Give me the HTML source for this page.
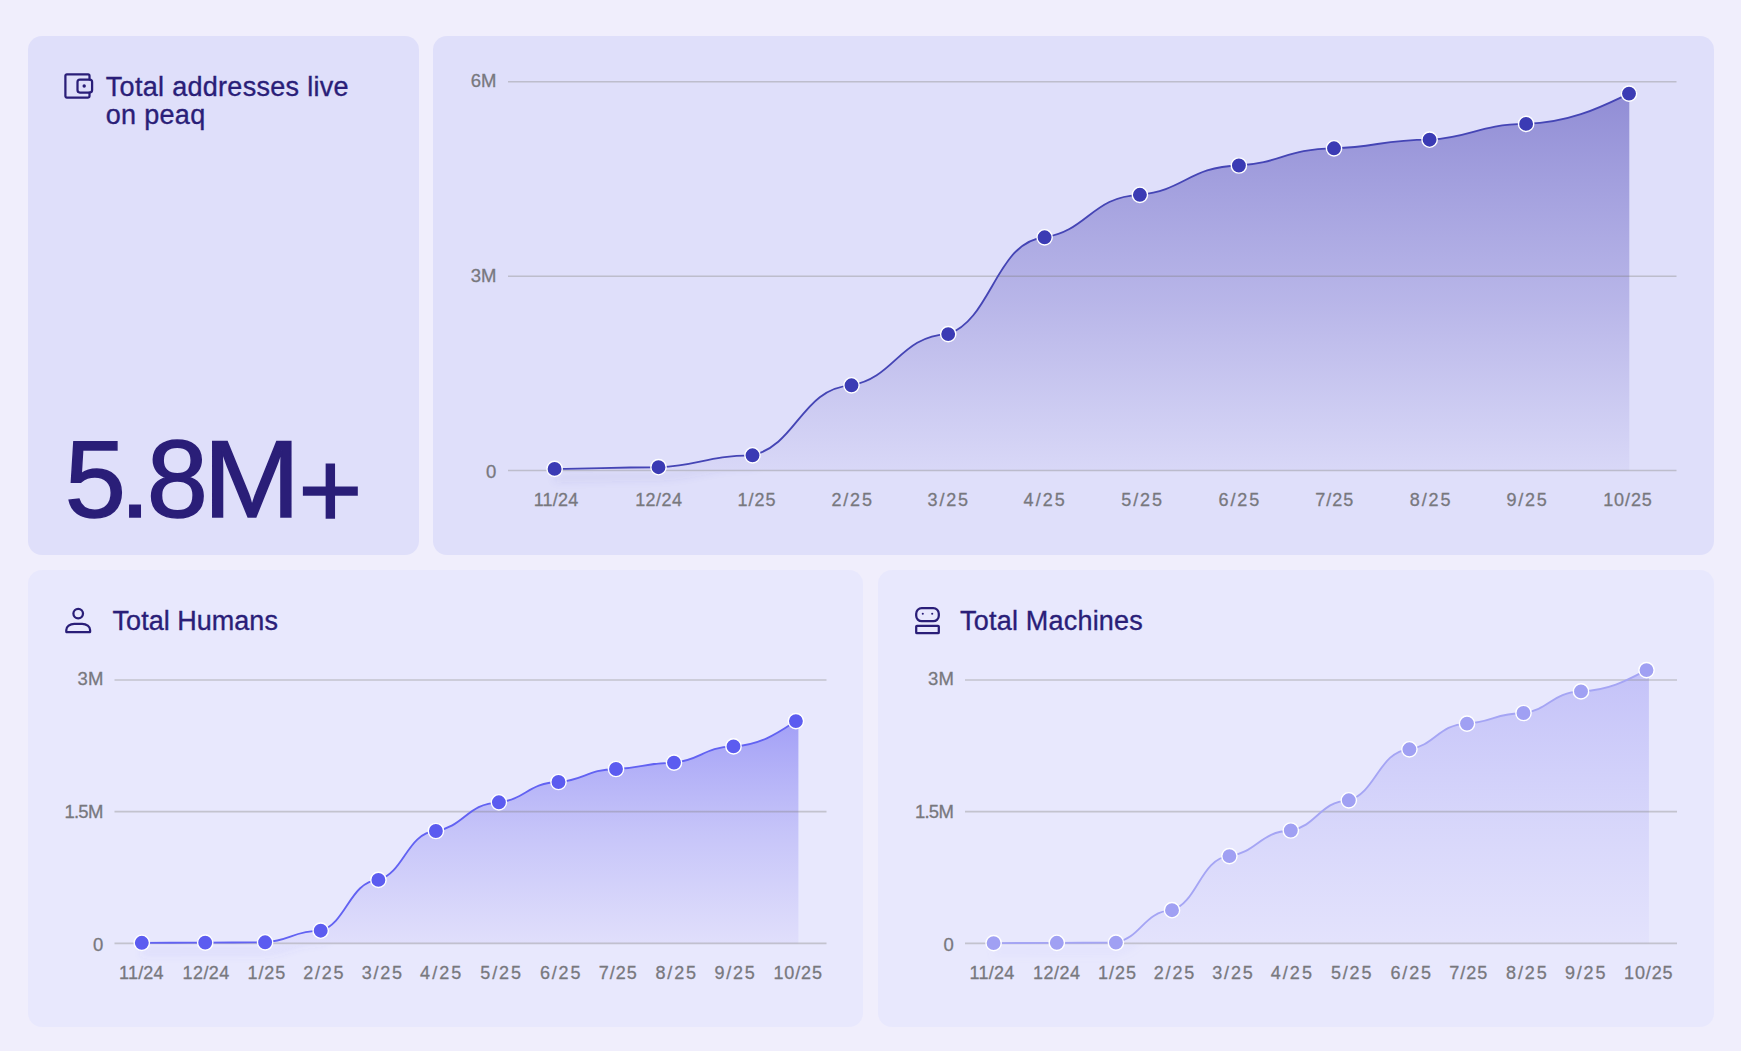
<!DOCTYPE html>
<html><head><meta charset="utf-8"><title>peaq stats</title>
<style>
html,body{margin:0;padding:0}
body{width:1741px;height:1051px;background:#f0eefc;position:relative;overflow:hidden;font-family:"Liberation Sans",sans-serif;color:#2a1e78}
.card{position:absolute;border-radius:14px}
.c1{left:28px;top:36px;width:391px;height:518.5px;background:#dfdffa}
.c2{left:433.3px;top:36px;width:1280.9px;height:518.6px;background:#dfdffa}
.c3{left:28px;top:570.2px;width:835.3px;height:457.3px;background:#e8e8fd}
.c4{left:878px;top:570.2px;width:836.2px;height:457.3px;background:#e8e8fd}
.t{position:absolute;white-space:nowrap;color:#2a1e78;-webkit-text-stroke:0.35px #2a1e78}
.t1{left:105.8px;top:72.5px;font-size:27px;line-height:28.3px;letter-spacing:0.3px}
.big{top:415.3px;font-size:110px;line-height:128px;-webkit-text-stroke:1.5px #2a1e78}
.t3{left:112.6px;top:605.5px;font-size:27px;line-height:30px;letter-spacing:0.02px}
.t4{left:960.1px;top:605.5px;font-size:27px;line-height:30px;letter-spacing:0.2px}
</style></head><body>
<div class="card c1"></div><div class="card c2"></div><div class="card c3"></div><div class="card c4"></div>
<svg width="1741" height="1051" viewBox="0 0 1741 1051" style="position:absolute;left:0;top:0;font-family:'Liberation Sans',sans-serif">
<defs><filter id="blur" x="-5%" y="-50%" width="110%" height="200%"><feGaussianBlur stdDeviation="4"/></filter></defs>
<defs><linearGradient id="gTop" gradientUnits="userSpaceOnUse" x1="0" y1="93.6" x2="0" y2="470.5">
<stop offset="0" stop-color="#8a86d2" stop-opacity="0.92"/>
<stop offset="0.55" stop-color="#aeabe4" stop-opacity="0.8"/>
<stop offset="1" stop-color="#d6d5f6" stop-opacity="0.75"/>
</linearGradient></defs>
<path d="M554.6,468.9C601.4,468.6 606.5,467.3 658.5,467.2C700.8,465.4 705.5,455.8 752.5,455.3C797,444.8 802,388.1 851.5,385.3C895,377.6 899.9,336.1 948.2,334.1C991.6,319.6 996.4,241.2 1044.6,237.3C1087.5,230.9 1092.2,196.5 1139.9,194.8C1184.5,190.4 1189.4,166.7 1238.9,165.5C1281.7,162.9 1286.5,149 1334,148.3C1377,147 1381.8,140 1429.6,139.7C1473,137.3 1477.8,124.5 1526.1,123.9C1572.4,122.4 1603.3,105.7 1629,93.6L1629.3,93.6 L1629.3,470.5 L554.6,470.5 Z" fill="url(#gTop)"/>
<line x1="508" y1="81.8" x2="1676.5" y2="81.8" stroke="#7a7a70" stroke-opacity="0.33" stroke-width="1.6"/>
<line x1="508" y1="276.2" x2="1676.5" y2="276.2" stroke="#7a7a70" stroke-opacity="0.33" stroke-width="1.6"/>
<line x1="508" y1="470.5" x2="1676.5" y2="470.5" stroke="#7a7a70" stroke-opacity="0.33" stroke-width="1.6"/>
<clipPath id="cgTop"><rect x="0" y="471.5" width="1741" height="40"/></clipPath>
<g clip-path="url(#cgTop)"><path d="M554.6,468.9C601.4,468.6 606.5,467.3 658.5,467.2C700.8,465.4 705.5,455.8 752.5,455.3C797,444.8 802,388.1 851.5,385.3C895,377.6 899.9,336.1 948.2,334.1C991.6,319.6 996.4,241.2 1044.6,237.3C1087.5,230.9 1092.2,196.5 1139.9,194.8C1184.5,190.4 1189.4,166.7 1238.9,165.5C1281.7,162.9 1286.5,149 1334,148.3C1377,147 1381.8,140 1429.6,139.7C1473,137.3 1477.8,124.5 1526.1,123.9C1572.4,122.4 1603.3,105.7 1629,93.6" fill="none" stroke="#4545b5" stroke-width="5" stroke-opacity="0.13" transform="translate(0,9)" filter="url(#blur)"/></g>
<path d="M554.6,468.9C601.4,468.6 606.5,467.3 658.5,467.2C700.8,465.4 705.5,455.8 752.5,455.3C797,444.8 802,388.1 851.5,385.3C895,377.6 899.9,336.1 948.2,334.1C991.6,319.6 996.4,241.2 1044.6,237.3C1087.5,230.9 1092.2,196.5 1139.9,194.8C1184.5,190.4 1189.4,166.7 1238.9,165.5C1281.7,162.9 1286.5,149 1334,148.3C1377,147 1381.8,140 1429.6,139.7C1473,137.3 1477.8,124.5 1526.1,123.9C1572.4,122.4 1603.3,105.7 1629,93.6" fill="none" stroke="#4545b5" stroke-width="1.85" stroke-linecap="round" stroke-linejoin="round"/>
<circle cx="554.6" cy="468.9" r="7.65" fill="#3b3bb4" stroke="#ffffff" stroke-width="1.4"/>
<circle cx="658.5" cy="467.2" r="7.65" fill="#3b3bb4" stroke="#ffffff" stroke-width="1.4"/>
<circle cx="752.5" cy="455.3" r="7.65" fill="#3b3bb4" stroke="#ffffff" stroke-width="1.4"/>
<circle cx="851.5" cy="385.3" r="7.65" fill="#3b3bb4" stroke="#ffffff" stroke-width="1.4"/>
<circle cx="948.2" cy="334.1" r="7.65" fill="#3b3bb4" stroke="#ffffff" stroke-width="1.4"/>
<circle cx="1044.6" cy="237.3" r="7.65" fill="#3b3bb4" stroke="#ffffff" stroke-width="1.4"/>
<circle cx="1139.9" cy="194.8" r="7.65" fill="#3b3bb4" stroke="#ffffff" stroke-width="1.4"/>
<circle cx="1238.9" cy="165.5" r="7.65" fill="#3b3bb4" stroke="#ffffff" stroke-width="1.4"/>
<circle cx="1334" cy="148.3" r="7.65" fill="#3b3bb4" stroke="#ffffff" stroke-width="1.4"/>
<circle cx="1429.6" cy="139.7" r="7.65" fill="#3b3bb4" stroke="#ffffff" stroke-width="1.4"/>
<circle cx="1526.1" cy="123.9" r="7.65" fill="#3b3bb4" stroke="#ffffff" stroke-width="1.4"/>
<circle cx="1629" cy="93.6" r="7.65" fill="#3b3bb4" stroke="#ffffff" stroke-width="1.4"/>
<text x="556" y="506.4" text-anchor="middle" font-size="18" textLength="44.6" lengthAdjust="spacing" fill="#78787e" stroke="#78787e" stroke-width="0.3">11/24</text>
<text x="658.6" y="506.4" text-anchor="middle" font-size="18" textLength="46.9" lengthAdjust="spacing" fill="#78787e" stroke="#78787e" stroke-width="0.3">12/24</text>
<text x="756.5" y="506.4" text-anchor="middle" font-size="18" textLength="37.8" lengthAdjust="spacing" fill="#78787e" stroke="#78787e" stroke-width="0.3">1/25</text>
<text x="851.7" y="506.4" text-anchor="middle" font-size="18" textLength="40.4" lengthAdjust="spacing" fill="#78787e" stroke="#78787e" stroke-width="0.3">2/25</text>
<text x="947.8" y="506.4" text-anchor="middle" font-size="18" textLength="40.4" lengthAdjust="spacing" fill="#78787e" stroke="#78787e" stroke-width="0.3">3/25</text>
<text x="1044.2" y="506.4" text-anchor="middle" font-size="18" textLength="41.2" lengthAdjust="spacing" fill="#78787e" stroke="#78787e" stroke-width="0.3">4/25</text>
<text x="1141.6" y="506.4" text-anchor="middle" font-size="18" textLength="40.6" lengthAdjust="spacing" fill="#78787e" stroke="#78787e" stroke-width="0.3">5/25</text>
<text x="1238.9" y="506.4" text-anchor="middle" font-size="18" textLength="40.6" lengthAdjust="spacing" fill="#78787e" stroke="#78787e" stroke-width="0.3">6/25</text>
<text x="1334.2" y="506.4" text-anchor="middle" font-size="18" textLength="37.9" lengthAdjust="spacing" fill="#78787e" stroke="#78787e" stroke-width="0.3">7/25</text>
<text x="1430.1" y="506.4" text-anchor="middle" font-size="18" textLength="40.6" lengthAdjust="spacing" fill="#78787e" stroke="#78787e" stroke-width="0.3">8/25</text>
<text x="1526.6" y="506.4" text-anchor="middle" font-size="18" textLength="40.4" lengthAdjust="spacing" fill="#78787e" stroke="#78787e" stroke-width="0.3">9/25</text>
<text x="1627.5" y="506.4" text-anchor="middle" font-size="18" textLength="48.6" lengthAdjust="spacing" fill="#78787e" stroke="#78787e" stroke-width="0.3">10/25</text>
<text x="496.4" y="86.5" text-anchor="end" font-size="18.5" fill="#78787e" stroke="#78787e" stroke-width="0.3">6M</text>
<text x="496.4" y="282" text-anchor="end" font-size="18.5" fill="#78787e" stroke="#78787e" stroke-width="0.3">3M</text>
<text x="496.4" y="478" text-anchor="end" font-size="18.5" fill="#78787e" stroke="#78787e" stroke-width="0.3">0</text>
<defs><linearGradient id="gHum" gradientUnits="userSpaceOnUse" x1="0" y1="721.1" x2="0" y2="943.4">
<stop offset="0" stop-color="#9f9cf6" stop-opacity="0.95"/>
<stop offset="0.5" stop-color="#c0bef8" stop-opacity="0.85"/>
<stop offset="1" stop-color="#dedcfb" stop-opacity="0.8"/>
</linearGradient></defs>
<path d="M141.8,942.8C170.3,942.8 173.5,942.6 205.2,942.6C232.2,942.6 235.2,942.3 265.1,942.3C290.1,940.6 292.9,931.2 320.7,930.7C346.7,923.1 349.5,881.9 378.4,879.9C404.3,872.6 407.1,833 435.9,831C464.2,826.7 467.4,803.4 498.9,802.3C525.7,799.3 528.7,782.8 558.5,782C584.4,780 587.2,769.5 616,769C642.1,768 645,762.9 674,762.6C700.8,760.2 703.8,747 733.5,746.4C761.6,745.1 780.3,731.2 795.9,721.1L798.4,721.1 L798.4,943.4 L141.8,943.4 Z" fill="url(#gHum)"/>
<line x1="114.5" y1="680" x2="826.5" y2="680" stroke="#7a7a70" stroke-opacity="0.33" stroke-width="1.6"/>
<line x1="114.5" y1="811.6" x2="826.5" y2="811.6" stroke="#7a7a70" stroke-opacity="0.33" stroke-width="1.6"/>
<line x1="114.5" y1="943.4" x2="826.5" y2="943.4" stroke="#7a7a70" stroke-opacity="0.33" stroke-width="1.6"/>
<clipPath id="cgHum"><rect x="0" y="944.4" width="1741" height="40"/></clipPath>
<g clip-path="url(#cgHum)"><path d="M141.8,942.8C170.3,942.8 173.5,942.6 205.2,942.6C232.2,942.6 235.2,942.3 265.1,942.3C290.1,940.6 292.9,931.2 320.7,930.7C346.7,923.1 349.5,881.9 378.4,879.9C404.3,872.6 407.1,833 435.9,831C464.2,826.7 467.4,803.4 498.9,802.3C525.7,799.3 528.7,782.8 558.5,782C584.4,780 587.2,769.5 616,769C642.1,768 645,762.9 674,762.6C700.8,760.2 703.8,747 733.5,746.4C761.6,745.1 780.3,731.2 795.9,721.1" fill="none" stroke="#6262f2" stroke-width="5" stroke-opacity="0.13" transform="translate(0,9)" filter="url(#blur)"/></g>
<path d="M141.8,942.8C170.3,942.8 173.5,942.6 205.2,942.6C232.2,942.6 235.2,942.3 265.1,942.3C290.1,940.6 292.9,931.2 320.7,930.7C346.7,923.1 349.5,881.9 378.4,879.9C404.3,872.6 407.1,833 435.9,831C464.2,826.7 467.4,803.4 498.9,802.3C525.7,799.3 528.7,782.8 558.5,782C584.4,780 587.2,769.5 616,769C642.1,768 645,762.9 674,762.6C700.8,760.2 703.8,747 733.5,746.4C761.6,745.1 780.3,731.2 795.9,721.1" fill="none" stroke="#6262f2" stroke-width="1.85" stroke-linecap="round" stroke-linejoin="round"/>
<circle cx="141.8" cy="942.8" r="7.65" fill="#5c5cf0" stroke="#ffffff" stroke-width="1.4"/>
<circle cx="205.2" cy="942.6" r="7.65" fill="#5c5cf0" stroke="#ffffff" stroke-width="1.4"/>
<circle cx="265.1" cy="942.3" r="7.65" fill="#5c5cf0" stroke="#ffffff" stroke-width="1.4"/>
<circle cx="320.7" cy="930.7" r="7.65" fill="#5c5cf0" stroke="#ffffff" stroke-width="1.4"/>
<circle cx="378.4" cy="879.9" r="7.65" fill="#5c5cf0" stroke="#ffffff" stroke-width="1.4"/>
<circle cx="435.9" cy="831" r="7.65" fill="#5c5cf0" stroke="#ffffff" stroke-width="1.4"/>
<circle cx="498.9" cy="802.3" r="7.65" fill="#5c5cf0" stroke="#ffffff" stroke-width="1.4"/>
<circle cx="558.5" cy="782" r="7.65" fill="#5c5cf0" stroke="#ffffff" stroke-width="1.4"/>
<circle cx="616" cy="769" r="7.65" fill="#5c5cf0" stroke="#ffffff" stroke-width="1.4"/>
<circle cx="674" cy="762.6" r="7.65" fill="#5c5cf0" stroke="#ffffff" stroke-width="1.4"/>
<circle cx="733.5" cy="746.4" r="7.65" fill="#5c5cf0" stroke="#ffffff" stroke-width="1.4"/>
<circle cx="795.9" cy="721.1" r="7.65" fill="#5c5cf0" stroke="#ffffff" stroke-width="1.4"/>
<text x="141.3" y="979" text-anchor="middle" font-size="18" textLength="44.6" lengthAdjust="spacing" fill="#78787e" stroke="#78787e" stroke-width="0.3">11/24</text>
<text x="205.9" y="979" text-anchor="middle" font-size="18" textLength="46.9" lengthAdjust="spacing" fill="#78787e" stroke="#78787e" stroke-width="0.3">12/24</text>
<text x="266.4" y="979" text-anchor="middle" font-size="18" textLength="37.8" lengthAdjust="spacing" fill="#78787e" stroke="#78787e" stroke-width="0.3">1/25</text>
<text x="323.4" y="979" text-anchor="middle" font-size="18" textLength="40.4" lengthAdjust="spacing" fill="#78787e" stroke="#78787e" stroke-width="0.3">2/25</text>
<text x="381.9" y="979" text-anchor="middle" font-size="18" textLength="40.4" lengthAdjust="spacing" fill="#78787e" stroke="#78787e" stroke-width="0.3">3/25</text>
<text x="440.7" y="979" text-anchor="middle" font-size="18" textLength="41.2" lengthAdjust="spacing" fill="#78787e" stroke="#78787e" stroke-width="0.3">4/25</text>
<text x="500.6" y="979" text-anchor="middle" font-size="18" textLength="40.6" lengthAdjust="spacing" fill="#78787e" stroke="#78787e" stroke-width="0.3">5/25</text>
<text x="560.2" y="979" text-anchor="middle" font-size="18" textLength="40.6" lengthAdjust="spacing" fill="#78787e" stroke="#78787e" stroke-width="0.3">6/25</text>
<text x="617.7" y="979" text-anchor="middle" font-size="18" textLength="37.9" lengthAdjust="spacing" fill="#78787e" stroke="#78787e" stroke-width="0.3">7/25</text>
<text x="675.8" y="979" text-anchor="middle" font-size="18" textLength="40.6" lengthAdjust="spacing" fill="#78787e" stroke="#78787e" stroke-width="0.3">8/25</text>
<text x="734.6" y="979" text-anchor="middle" font-size="18" textLength="40.4" lengthAdjust="spacing" fill="#78787e" stroke="#78787e" stroke-width="0.3">9/25</text>
<text x="797.7" y="979" text-anchor="middle" font-size="18" textLength="48.6" lengthAdjust="spacing" fill="#78787e" stroke="#78787e" stroke-width="0.3">10/25</text>
<text x="103.3" y="685.4" text-anchor="end" font-size="18.5" fill="#78787e" stroke="#78787e" stroke-width="0.3">3M</text>
<text x="103.3" y="818.4" text-anchor="end" font-size="18.5" textLength="38.8" lengthAdjust="spacing" fill="#78787e" stroke="#78787e" stroke-width="0.3">1.5M</text>
<text x="103.3" y="950.8" text-anchor="end" font-size="18.5" fill="#78787e" stroke="#78787e" stroke-width="0.3">0</text>
<defs><linearGradient id="gMac" gradientUnits="userSpaceOnUse" x1="0" y1="670.1" x2="0" y2="943.4">
<stop offset="0" stop-color="#c2c0f8" stop-opacity="0.95"/>
<stop offset="0.5" stop-color="#d2d1fa" stop-opacity="0.85"/>
<stop offset="1" stop-color="#e2e1fc" stop-opacity="0.8"/>
</linearGradient></defs>
<path d="M993.6,943.1C1022,943.1 1025.2,942.8 1056.8,942.8C1083.4,942.8 1086.3,942.6 1115.9,942.6C1141.1,937.7 1144,911.5 1172,910.2C1197.8,902.1 1200.7,858.3 1229.4,856.1C1257,852.3 1260.1,831.5 1290.8,830.5C1316.9,826 1319.8,801.5 1348.8,800.3C1376.1,792.6 1379.1,751.3 1409.4,749.3C1435.3,745.4 1438.2,724.6 1467,723.6C1492.4,722 1495.2,713.4 1523.5,713C1549.4,709.8 1552.2,692.3 1581,691.4C1610.5,690.3 1630.1,678.6 1646.5,670.1L1648.9,670.1 L1648.9,943.4 L993.6,943.4 Z" fill="url(#gMac)"/>
<line x1="965" y1="680" x2="1677" y2="680" stroke="#7a7a70" stroke-opacity="0.33" stroke-width="1.6"/>
<line x1="965" y1="811.6" x2="1677" y2="811.6" stroke="#7a7a70" stroke-opacity="0.33" stroke-width="1.6"/>
<line x1="965" y1="943.4" x2="1677" y2="943.4" stroke="#7a7a70" stroke-opacity="0.33" stroke-width="1.6"/>
<clipPath id="cgMac"><rect x="0" y="944.4" width="1741" height="40"/></clipPath>
<g clip-path="url(#cgMac)"><path d="M993.6,943.1C1022,943.1 1025.2,942.8 1056.8,942.8C1083.4,942.8 1086.3,942.6 1115.9,942.6C1141.1,937.7 1144,911.5 1172,910.2C1197.8,902.1 1200.7,858.3 1229.4,856.1C1257,852.3 1260.1,831.5 1290.8,830.5C1316.9,826 1319.8,801.5 1348.8,800.3C1376.1,792.6 1379.1,751.3 1409.4,749.3C1435.3,745.4 1438.2,724.6 1467,723.6C1492.4,722 1495.2,713.4 1523.5,713C1549.4,709.8 1552.2,692.3 1581,691.4C1610.5,690.3 1630.1,678.6 1646.5,670.1" fill="none" stroke="#a5a5f4" stroke-width="5" stroke-opacity="0.13" transform="translate(0,9)" filter="url(#blur)"/></g>
<path d="M993.6,943.1C1022,943.1 1025.2,942.8 1056.8,942.8C1083.4,942.8 1086.3,942.6 1115.9,942.6C1141.1,937.7 1144,911.5 1172,910.2C1197.8,902.1 1200.7,858.3 1229.4,856.1C1257,852.3 1260.1,831.5 1290.8,830.5C1316.9,826 1319.8,801.5 1348.8,800.3C1376.1,792.6 1379.1,751.3 1409.4,749.3C1435.3,745.4 1438.2,724.6 1467,723.6C1492.4,722 1495.2,713.4 1523.5,713C1549.4,709.8 1552.2,692.3 1581,691.4C1610.5,690.3 1630.1,678.6 1646.5,670.1" fill="none" stroke="#a5a5f4" stroke-width="1.85" stroke-linecap="round" stroke-linejoin="round"/>
<circle cx="993.6" cy="943.1" r="7.65" fill="#a0a0f3" stroke="#ffffff" stroke-width="1.4"/>
<circle cx="1056.8" cy="942.8" r="7.65" fill="#a0a0f3" stroke="#ffffff" stroke-width="1.4"/>
<circle cx="1115.9" cy="942.6" r="7.65" fill="#a0a0f3" stroke="#ffffff" stroke-width="1.4"/>
<circle cx="1172" cy="910.2" r="7.65" fill="#a0a0f3" stroke="#ffffff" stroke-width="1.4"/>
<circle cx="1229.4" cy="856.1" r="7.65" fill="#a0a0f3" stroke="#ffffff" stroke-width="1.4"/>
<circle cx="1290.8" cy="830.5" r="7.65" fill="#a0a0f3" stroke="#ffffff" stroke-width="1.4"/>
<circle cx="1348.8" cy="800.3" r="7.65" fill="#a0a0f3" stroke="#ffffff" stroke-width="1.4"/>
<circle cx="1409.4" cy="749.3" r="7.65" fill="#a0a0f3" stroke="#ffffff" stroke-width="1.4"/>
<circle cx="1467" cy="723.6" r="7.65" fill="#a0a0f3" stroke="#ffffff" stroke-width="1.4"/>
<circle cx="1523.5" cy="713" r="7.65" fill="#a0a0f3" stroke="#ffffff" stroke-width="1.4"/>
<circle cx="1581" cy="691.4" r="7.65" fill="#a0a0f3" stroke="#ffffff" stroke-width="1.4"/>
<circle cx="1646.5" cy="670.1" r="7.65" fill="#a0a0f3" stroke="#ffffff" stroke-width="1.4"/>
<text x="991.9" y="979" text-anchor="middle" font-size="18" textLength="44.6" lengthAdjust="spacing" fill="#78787e" stroke="#78787e" stroke-width="0.3">11/24</text>
<text x="1056.5" y="979" text-anchor="middle" font-size="18" textLength="46.9" lengthAdjust="spacing" fill="#78787e" stroke="#78787e" stroke-width="0.3">12/24</text>
<text x="1117" y="979" text-anchor="middle" font-size="18" textLength="37.8" lengthAdjust="spacing" fill="#78787e" stroke="#78787e" stroke-width="0.3">1/25</text>
<text x="1174" y="979" text-anchor="middle" font-size="18" textLength="40.4" lengthAdjust="spacing" fill="#78787e" stroke="#78787e" stroke-width="0.3">2/25</text>
<text x="1232.5" y="979" text-anchor="middle" font-size="18" textLength="40.4" lengthAdjust="spacing" fill="#78787e" stroke="#78787e" stroke-width="0.3">3/25</text>
<text x="1291.3" y="979" text-anchor="middle" font-size="18" textLength="41.2" lengthAdjust="spacing" fill="#78787e" stroke="#78787e" stroke-width="0.3">4/25</text>
<text x="1351.2" y="979" text-anchor="middle" font-size="18" textLength="40.6" lengthAdjust="spacing" fill="#78787e" stroke="#78787e" stroke-width="0.3">5/25</text>
<text x="1410.8" y="979" text-anchor="middle" font-size="18" textLength="40.6" lengthAdjust="spacing" fill="#78787e" stroke="#78787e" stroke-width="0.3">6/25</text>
<text x="1468.3" y="979" text-anchor="middle" font-size="18" textLength="37.9" lengthAdjust="spacing" fill="#78787e" stroke="#78787e" stroke-width="0.3">7/25</text>
<text x="1526.4" y="979" text-anchor="middle" font-size="18" textLength="40.6" lengthAdjust="spacing" fill="#78787e" stroke="#78787e" stroke-width="0.3">8/25</text>
<text x="1585.2" y="979" text-anchor="middle" font-size="18" textLength="40.4" lengthAdjust="spacing" fill="#78787e" stroke="#78787e" stroke-width="0.3">9/25</text>
<text x="1648.3" y="979" text-anchor="middle" font-size="18" textLength="48.6" lengthAdjust="spacing" fill="#78787e" stroke="#78787e" stroke-width="0.3">10/25</text>
<text x="953.8" y="685.4" text-anchor="end" font-size="18.5" fill="#78787e" stroke="#78787e" stroke-width="0.3">3M</text>
<text x="953.8" y="818.4" text-anchor="end" font-size="18.5" textLength="38.8" lengthAdjust="spacing" fill="#78787e" stroke="#78787e" stroke-width="0.3">1.5M</text>
<text x="953.8" y="950.8" text-anchor="end" font-size="18.5" fill="#78787e" stroke="#78787e" stroke-width="0.3">0</text>
<g fill="none" stroke="#2a1e78" stroke-width="2.25" stroke-linejoin="round" stroke-linecap="round">
<path d="M89.5,79.5 V75.7 a1.4,1.4 0 0 0 -1.4,-1.4 H66.8 a1.4,1.4 0 0 0 -1.4,1.4 V96.1 a1.4,1.4 0 0 0 1.4,1.4 H88.1 a1.4,1.4 0 0 0 1.4,-1.4 V92.5"/>
<rect x="77.5" y="79.5" width="14.6" height="13" rx="2.4"/>
</g>
<circle cx="84.2" cy="86" r="1.7" fill="#2a1e78"/>
<g fill="none" stroke="#2a1e78" stroke-width="2.25" stroke-linejoin="round" stroke-linecap="round">
<circle cx="78.2" cy="613.6" r="4.8"/>
<path d="M66.3,632 H90.1 V630 a8,6.2 0 0 0 -8,-6.2 H74.3 a8,6.2 0 0 0 -8,6.2 Z"/>
</g>
<g fill="none" stroke="#2a1e78" stroke-width="2.25" stroke-linejoin="round" stroke-linecap="round">
<rect x="916.2" y="608.2" width="22.6" height="13" rx="5.5"/>
<rect x="916.2" y="625.8" width="22.6" height="7.4" rx="0.8"/>
</g>
<circle cx="922.8" cy="613.8" r="1.05" fill="#2a1e78"/><circle cx="932.2" cy="613.8" r="1.05" fill="#2a1e78"/>
</svg>
<div class="t t1">Total addresses live<br>on peaq</div>
<div class="t big" style="left:64.8px">5</div><div class="t big" style="left:119.7px">.</div><div class="t big" style="left:146.8px">8</div><div class="t big" style="left:206.1px;transform:scaleX(1.06);transform-origin:45.5px 50%">M</div><div class="t big" style="left:298.2px;top:425.5px">+</div>
<div class="t t3">Total Humans</div>
<div class="t t4">Total Machines</div>
</body></html>
